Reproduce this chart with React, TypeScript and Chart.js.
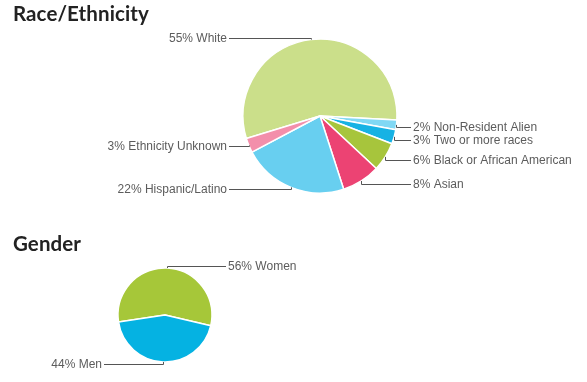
import React, { useEffect, useRef } from "react";
import { Chart, registerables } from "chart.js";

Chart.register(...registerables);

const raceLabels = [
  "White",
  "Non-Resident Alien",
  "Two or more races",
  "Black or African American",
  "Asian",
  "Hispanic/Latino",
  "Ethnicity Unknown",
];
const raceValues = [55, 2, 3, 6, 8, 22, 3];
const raceColors = ["#cbdf8a", "#80d8f4", "#17b2e4", "#a7c53c", "#ec4373", "#68cff0", "#f38fab"];

const genderLabels = ["Women", "Men"];
const genderValues = [56, 44];
const genderColors = ["#a6c739", "#05b2e2"];

const W = 587;
const H = 382;

type PieCfg = {
  labels: string[];
  values: number[];
  colors: string[];
  cx: number;
  cy: number;
  r: number;
  rotation: number;
};

const outLabelPlugin = {
  id: "outLabels",
  afterDraw(chart: any) {
    const ctx = chart.ctx;
    const meta = chart.getDatasetMeta(0);
    const ds = chart.data.datasets[0];
    const labels = chart.data.labels as string[];
    const items: any[] = [];
    meta.data.forEach((arc: any, i: number) => {
      const { x, y, startAngle, endAngle, outerRadius } = arc.getProps(
        ["x", "y", "startAngle", "endAngle", "outerRadius"],
        true
      );
      const mid = (startAngle + endAngle) / 2;
      const c = Math.cos(mid);
      const s = Math.sin(mid);
      const ex = x + outerRadius * c;
      const ey = y + outerRadius * s;
      const right = c >= 0;
      const ly = y + (outerRadius + 2) * s + 2 * Math.max(c, 0);
      items.push({
        i,
        ex,
        ey,
        ly,
        right,
        cx: x,
        r: outerRadius,
        text: ds.data[i] + "% " + labels[i],
      });
    });
    for (const side of [true, false]) {
      const list = items.filter((it) => it.right === side).sort((a, b) => a.ly - b.ly);
      for (let k = 1; k < list.length; k++) {
        if (list[k].ly - list[k - 1].ly < 13) list[k].ly = list[k - 1].ly + 13;
      }
    }
    ctx.save();
    ctx.font = "12px 'Liberation Sans', Arial, sans-serif";
    ctx.textBaseline = "middle";
    ctx.strokeStyle = "#555555";
    ctx.lineWidth = 1;
    ctx.fillStyle = "#5c5c5c";
    items.forEach((it) => {
      const lx = it.right ? it.cx + it.r + 16 : it.cx - it.r - 16;
      ctx.beginPath();
      const ex = Math.round(it.ex) + 0.5;
      const ly = Math.round(it.ly) + 0.5;
      ctx.moveTo(ex, it.ey);
      ctx.lineTo(ex, ly);
      ctx.lineTo(it.right ? lx - 2 : lx + 2, ly);
      ctx.stroke();
      ctx.textAlign = it.right ? "left" : "right";
      ctx.fillText(it.text, lx, ly);
    });
    ctx.restore();
  },
};

function PieCanvas({ cfg }: { cfg: PieCfg }) {
  const ref = useRef<HTMLCanvasElement | null>(null);
  useEffect(() => {
    if (!ref.current) return;
    const padLeft = Math.max(0, 2 * cfg.cx - W);
    const padRight = Math.max(0, W - 2 * cfg.cx);
    const padTop = Math.max(0, 2 * cfg.cy - H);
    const padBottom = Math.max(0, H - 2 * cfg.cy);
    const chart = new Chart(ref.current, {
      type: "pie",
      data: {
        labels: cfg.labels,
        datasets: [
          {
            data: cfg.values,
            backgroundColor: cfg.colors,
            borderColor: "#ffffff",
            borderWidth: 1.5,
          },
        ],
      },
      options: {
        animation: false,
        responsive: false,
        rotation: cfg.rotation,
        radius: cfg.r,
        layout: {
          padding: { left: padLeft, right: padRight, top: padTop, bottom: padBottom },
        },
        plugins: {
          legend: { display: false },
          tooltip: { enabled: false },
          title: { display: false },
        },
        events: [],
      },
      plugins: [outLabelPlugin],
    });
    return () => chart.destroy();
  }, [cfg]);
  return (
    <canvas
      ref={ref}
      width={W}
      height={H}
      style={{ position: "absolute", left: 0, top: 0, width: W, height: H }}
    />
  );
}

const raceCfg: PieCfg = {
  labels: raceLabels,
  values: raceValues,
  colors: raceColors,
  cx: 320,
  cy: 116,
  r: 77,
  rotation: 253,
};
const genderCfg: PieCfg = {
  labels: genderLabels,
  values: genderValues,
  colors: genderColors,
  cx: 165,
  cy: 315,
  r: 47,
  rotation: 261.5,
};

const titleStyle: React.CSSProperties = {
  position: "absolute",
  left: 13,
  fontFamily: "Lato, 'Open Sans', sans-serif",
  fontWeight: 700,
  fontSize: 20.5,
  letterSpacing: 0.1,
  lineHeight: "20px",
  color: "#222222",
  margin: 0,
  whiteSpace: "nowrap",
};

export default function App() {
  useEffect(() => {
    document.body.style.margin = "0";
  }, []);
  return (
    <div style={{ position: "absolute", left: 0, top: 0, width: W, height: H, background: "#ffffff", overflow: "hidden" }}>
      <PieCanvas cfg={raceCfg} />
      <PieCanvas cfg={genderCfg} />
      <div style={{ ...titleStyle, top: 3 }}>Race/Ethnicity</div>
      <div style={{ ...titleStyle, top: 233 }}>Gender</div>
    </div>
  );
}
